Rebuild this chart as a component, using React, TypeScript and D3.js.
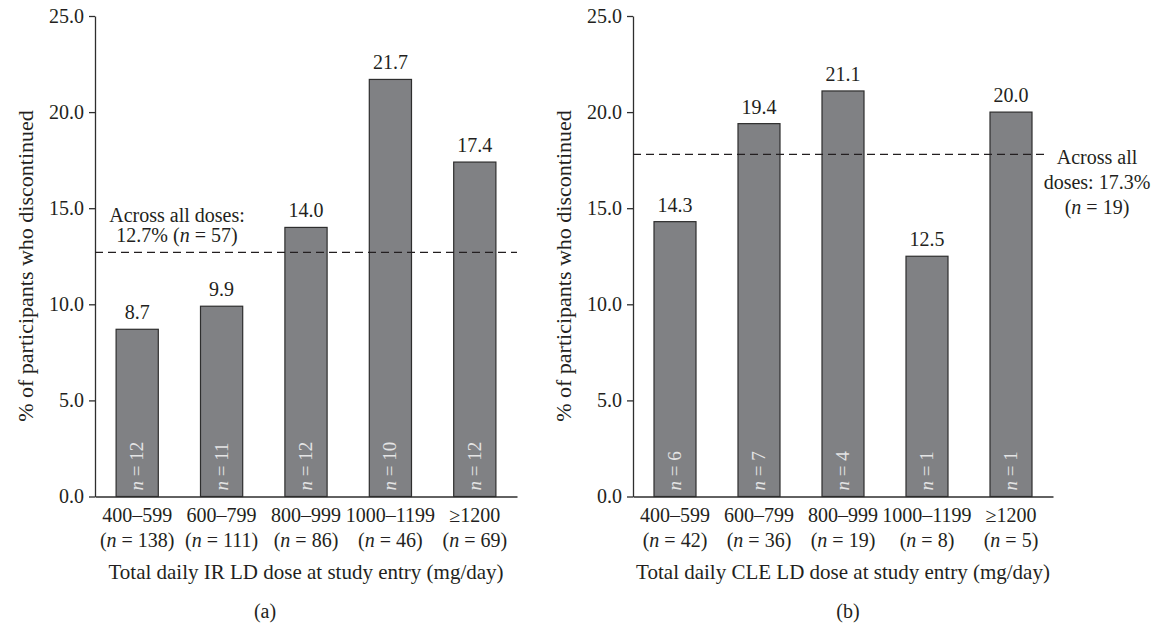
import React, { useEffect, useRef } from 'react';
import * as d3 from 'd3';

// dose bands shared by both panels
const categories = ['400–599', '600–799', '800–999', '1000–1199', '≥1200'];
const yTicks = [0, 5, 10, 15, 20, 25];

// (a) IR LD
const irPercent = [8.7, 9.9, 14.0, 21.7, 17.4];
const irDiscontinued = [12, 11, 12, 10, 12];
const irTotal = [138, 111, 86, 46, 69];
const irOverall = 12.7;
const irOverallText = ['Across all doses:', '12.7% (n = 57)'];

// (b) CLE LD
const clePercent = [14.3, 19.4, 21.1, 12.5, 20.0];
const cleDiscontinued = [6, 7, 4, 1, 1];
const cleTotal = [42, 36, 19, 8, 5];
const cleOverall = 17.8; // line sits at ~17.8 in the original even though the label says 17.3
const cleOverallText = ['Across all', 'doses: 17.3%', '(n = 19)'];

const FONT = '"Liberation Serif", "DejaVu Serif", serif';
const INK = '#231f20';

// writes "n = X" style strings with an italic n
const addN = (sel, str) => {
  const parts = str.split(/(?<![a-z])n(?= =)/);
  parts.forEach((p, i) => {
    if (i > 0) sel.append('tspan').attr('font-style', 'italic').text('n');
    if (p) sel.append('tspan').text(p);
  });
};

const drawPanel = (g, opts) => {
  const { x0, x1, lineEnd, percent, disc, total, overall, overallText, noteX, noteY, noteGap, title, tag, tagX } = opts;
  const y0 = 496.5;

  const x = d3.scaleBand().domain(categories).range([x0, x1]).paddingInner(0.5).paddingOuter(0.25);
  const y = d3.scaleLinear().domain([0, 25]).range([y0, 16]);

  // bars
  g.selectAll('.bar')
    .data(percent)
    .enter()
    .append('rect')
    .attr('x', (d, i) => x(categories[i]))
    .attr('y', (d) => y(d))
    .attr('width', x.bandwidth())
    .attr('height', (d) => y0 - y(d))
    .attr('fill', '#808184')
    .attr('stroke', '#2e2e2e')
    .attr('stroke-width', 1.2);

  // value labels
  g.selectAll('.val')
    .data(percent)
    .enter()
    .append('text')
    .attr('x', (d, i) => x(categories[i]) + x.bandwidth() / 2)
    .attr('y', (d) => y(d) - 10)
    .attr('text-anchor', 'middle')
    .attr('font-size', 20)
    .attr('fill', INK)
    .text((d) => d.toFixed(1));

  // n inside bars
  disc.forEach((n, i) => {
    const cx = x(categories[i]) + x.bandwidth() / 2 + 6;
    const t = g.append('text')
      .attr('transform', `translate(${cx},${y0 - 6}) rotate(-90)`)
      .attr('font-size', 19)
      .attr('fill', '#e4e4e4');
    addN(t, `n = ${n}`);
  });

  // y axis
  const yAxis = d3.axisLeft(y).tickValues(yTicks).tickFormat(d3.format('.1f')).tickSize(6).tickPadding(5).tickSizeOuter(0);
  const ya = g.append('g').attr('transform', `translate(${x0},0)`).call(yAxis);
  ya.selectAll('text').attr('font-size', 20).attr('font-family', FONT).attr('fill', INK);
  ya.selectAll('line, path').attr('stroke', '#2e2e2e').attr('stroke-width', 1.3);

  // x axis
  const xAxis = d3.axisBottom(x).tickSize(0).tickSizeOuter(0).tickFormat(() => '');
  const xa = g.append('g').attr('transform', `translate(0,${y0})`).call(xAxis);
  xa.selectAll('path').attr('stroke', '#2e2e2e').attr('stroke-width', 1.3);

  categories.forEach((c, i) => {
    const cx = x(c) + x.bandwidth() / 2;
    g.append('text').attr('x', cx).attr('y', y0 + 25).attr('text-anchor', 'middle')
      .attr('font-size', 20).attr('fill', INK).text(c);
    const t = g.append('text').attr('x', cx).attr('y', y0 + 50).attr('text-anchor', 'middle')
      .attr('font-size', 20).attr('fill', INK);
    addN(t, `(n = ${total[i]})`);
  });

  // overall dashed line
  g.append('line')
    .attr('x1', x0).attr('x2', lineEnd)
    .attr('y1', y(overall)).attr('y2', y(overall))
    .attr('stroke', INK).attr('stroke-width', 1.4).attr('stroke-dasharray', '8,5');

  overallText.forEach((s, i) => {
    const t = g.append('text').attr('x', noteX).attr('y', noteY + i * noteGap).attr('text-anchor', 'middle')
      .attr('font-size', 20).attr('fill', INK);
    addN(t, s);
  });

  // titles
  g.append('text')
    .attr('transform', `translate(${x0 - 62},266) rotate(-90)`)
    .attr('text-anchor', 'middle').attr('font-size', 22).attr('fill', INK)
    .text('% of participants who discontinued');
  g.append('text').attr('x', (x0 + x1) / 2).attr('y', y0 + 82).attr('text-anchor', 'middle')
    .attr('font-size', 21).attr('fill', INK).text(title);
  g.append('text').attr('x', tagX).attr('y', 618).attr('text-anchor', 'middle')
    .attr('font-size', 20).attr('fill', INK).text(tag);
};

export default function App() {
  const svgRef = useRef(null);

  useEffect(() => {
    const svg = d3.select(svgRef.current);
    svg.selectAll('*').remove();
    const root = svg.append('g').attr('font-family', FONT);

    drawPanel(root.append('g'), {
      x0: 95, x1: 517, lineEnd: 517,
      percent: irPercent, disc: irDiscontinued, total: irTotal,
      overall: irOverall, overallText: irOverallText,
      noteX: 177, noteY: 222, noteGap: 20,
      title: 'Total daily IR LD dose at study entry (mg/day)',
      tag: '(a)', tagX: 265,
    });
    drawPanel(root.append('g'), {
      x0: 633, x1: 1053, lineEnd: 1044,
      percent: clePercent, disc: cleDiscontinued, total: cleTotal,
      overall: cleOverall, overallText: cleOverallText,
      noteX: 1097, noteY: 164, noteGap: 25,
      title: 'Total daily CLE LD dose at study entry (mg/day)',
      tag: '(b)', tagX: 848,
    });
  }, []);

  return (
    <svg ref={svgRef} width={1156} height={627}
      style={{ position: 'absolute', left: 0, top: 0, background: '#fff' }} />
  );
}
